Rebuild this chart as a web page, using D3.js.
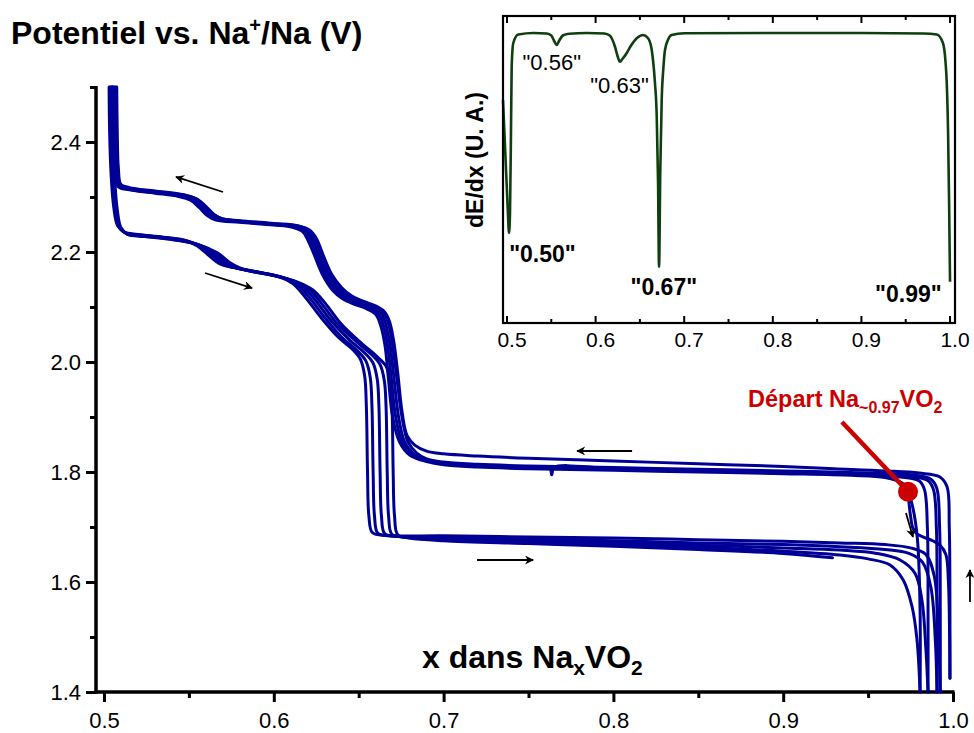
<!DOCTYPE html>
<html><head><meta charset="utf-8">
<script src="https://cdn.jsdelivr.net/npm/d3@7"></script>
<style>
html,body{margin:0;padding:0;background:#fff;}
svg{display:block;font-family:"Liberation Sans",Arial,sans-serif;}
</style></head>
<body>
<svg id="chart" width="974" height="733"></svg>
<script>
// ---------------- DATA ----------------
// main axes
const xTicksMain = [0.5, 0.6, 0.7, 0.8, 0.9, 1.0];
const xMinorMain = [0.55, 0.65, 0.75, 0.85, 0.95];
const yTicksMain = [1.4, 1.6, 1.8, 2.0, 2.2, 2.4];
const yMinorMain = [1.5, 1.7, 1.9, 2.1, 2.3, 2.5];

// charge curves (upper, x decreasing), [x, V]
const charge1 = [[0.9982,1.425],[0.9982,1.55],[0.9978,1.70],[0.9965,1.773],[0.9923,1.791],[0.9800,1.798],[0.9600,1.802],[0.9300,1.806],[0.9000,1.810],[0.8500,1.815],[0.8000,1.820],[0.7500,1.825],[0.7200,1.829],[0.7000,1.833],[0.6900,1.838],[0.6830,1.849],[0.6785,1.866],[0.6755,1.91],[0.6730,1.98],[0.6705,2.04],[0.6680,2.075],[0.6650,2.092],[0.6600,2.102],[0.6530,2.110],[0.6460,2.120],[0.6400,2.135],[0.6340,2.16],[0.6290,2.195],[0.6250,2.225],[0.6210,2.240],[0.6150,2.247],[0.6000,2.251],[0.5800,2.256],[0.5700,2.260],[0.5650,2.268],[0.5600,2.283],[0.5550,2.296],[0.5480,2.303],[0.5300,2.310],[0.5150,2.316],[0.5100,2.322],[0.5085,2.35],[0.5078,2.42],[0.5075,2.50]];
const charge2 = [[0.9925,1.40],[0.9925,1.55],[0.9921,1.70],[0.9905,1.770],[0.9870,1.787],[0.9750,1.795],[0.9500,1.798],[0.9000,1.802],[0.8500,1.805],[0.8000,1.808],[0.7500,1.811],[0.7200,1.814],[0.7000,1.818],[0.6900,1.824],[0.6840,1.835],[0.6790,1.855],[0.6755,1.90],[0.6725,1.97],[0.6700,2.03],[0.6675,2.07],[0.6645,2.090],[0.6590,2.100],[0.6520,2.108],[0.6450,2.118],[0.6390,2.133],[0.6330,2.16],[0.6280,2.195],[0.6240,2.224],[0.6200,2.240],[0.6140,2.248],[0.6000,2.252],[0.5800,2.257],[0.5690,2.261],[0.5640,2.269],[0.5590,2.284],[0.5540,2.297],[0.5470,2.304],[0.5300,2.311],[0.5150,2.317],[0.5095,2.324],[0.5080,2.36],[0.5072,2.43],[0.5068,2.50]];
const charge3 = [[0.9906,1.40],[0.9906,1.55],[0.9902,1.70],[0.9885,1.768],[0.9850,1.785],[0.9700,1.793],[0.9500,1.796],[0.9000,1.800],[0.8500,1.803],[0.8000,1.806],[0.7650,1.808],[0.7637,1.795],[0.7625,1.808],[0.7500,1.809],[0.7200,1.812],[0.7000,1.816],[0.6900,1.822],[0.6820,1.834],[0.6770,1.855],[0.6735,1.90],[0.6708,1.97],[0.6685,2.03],[0.6660,2.068],[0.6630,2.089],[0.6575,2.099],[0.6505,2.107],[0.6435,2.117],[0.6375,2.133],[0.6315,2.16],[0.6265,2.195],[0.6228,2.223],[0.6190,2.239],[0.6130,2.247],[0.6000,2.251],[0.5800,2.256],[0.5680,2.260],[0.5630,2.268],[0.5580,2.283],[0.5530,2.296],[0.5460,2.303],[0.5300,2.309],[0.5150,2.315],[0.5090,2.323],[0.5075,2.37],[0.5067,2.44],[0.5062,2.50]];
const charge4 = [[0.9853,1.40],[0.9853,1.55],[0.9849,1.70],[0.9832,1.768],[0.9800,1.784],[0.9650,1.792],[0.9400,1.796],[0.9000,1.799],[0.8500,1.802],[0.8000,1.805],[0.7500,1.808],[0.7200,1.811],[0.7000,1.815],[0.6900,1.821],[0.6810,1.833],[0.6755,1.855],[0.6718,1.90],[0.6692,1.97],[0.6670,2.03],[0.6645,2.067],[0.6615,2.088],[0.6560,2.098],[0.6490,2.106],[0.6420,2.116],[0.6360,2.132],[0.6300,2.16],[0.6252,2.195],[0.6215,2.222],[0.6180,2.238],[0.6120,2.246],[0.6000,2.250],[0.5800,2.255],[0.5670,2.259],[0.5620,2.267],[0.5570,2.282],[0.5520,2.295],[0.5450,2.302],[0.5300,2.308],[0.5150,2.314],[0.5085,2.322],[0.5068,2.38],[0.5060,2.45],[0.5055,2.50]];
const charge5 = [[0.9806,1.40],[0.9806,1.55],[0.9790,1.68],[0.9760,1.74],[0.9735,1.764],[0.9700,1.780],[0.9600,1.790],[0.9400,1.794],[0.9000,1.797],[0.8500,1.800],[0.8000,1.803],[0.7500,1.806],[0.7200,1.809],[0.7000,1.813],[0.6900,1.819],[0.6800,1.831],[0.6740,1.855],[0.6700,1.90],[0.6675,1.97],[0.6655,2.03],[0.6630,2.066],[0.6600,2.087],[0.6545,2.097],[0.6475,2.105],[0.6405,2.115],[0.6345,2.131],[0.6285,2.16],[0.6238,2.195],[0.6202,2.221],[0.6170,2.237],[0.6110,2.245],[0.6000,2.249],[0.5800,2.254],[0.5660,2.258],[0.5610,2.266],[0.5560,2.281],[0.5510,2.294],[0.5440,2.301],[0.5300,2.307],[0.5150,2.313],[0.5080,2.320],[0.5060,2.39],[0.5052,2.46],[0.5048,2.50]];

// discharge curves (lower, x increasing), [x, V]
const discharge0 = [[0.9735,1.764],[0.9750,1.72],[0.9765,1.697],[0.9790,1.687],[0.9823,1.682],[0.9880,1.675],[0.9923,1.667],[0.9958,1.650],[0.9973,1.60],[0.9980,1.50],[0.9982,1.425]];
const discharge1 = [[0.5030,2.50],[0.5033,2.42],[0.5042,2.34],[0.5058,2.28],[0.5080,2.248],[0.5120,2.236],[0.5200,2.232],[0.5350,2.227],[0.5480,2.221],[0.5550,2.211],[0.5620,2.193],[0.5680,2.179],[0.5760,2.172],[0.5900,2.164],[0.6030,2.155],[0.6110,2.143],[0.6180,2.120],[0.6280,2.080],[0.6380,2.045],[0.6460,2.024],[0.6510,2.005],[0.6535,1.975],[0.6545,1.92],[0.6552,1.80],[0.6560,1.72],[0.6580,1.690],[0.6650,1.685],[0.7000,1.684],[0.7500,1.682],[0.8000,1.680],[0.8500,1.677],[0.9000,1.674],[0.9334,1.671],[0.9600,1.668],[0.9750,1.662],[0.9840,1.650],[0.9890,1.610],[0.9915,1.50],[0.9925,1.40]];
const discharge2 = [[0.5035,2.50],[0.5038,2.42],[0.5047,2.34],[0.5062,2.28],[0.5085,2.247],[0.5125,2.235],[0.5210,2.231],[0.5360,2.226],[0.5500,2.219],[0.5580,2.207],[0.5650,2.190],[0.5710,2.177],[0.5790,2.170],[0.5930,2.162],[0.6060,2.153],[0.6140,2.140],[0.6210,2.117],[0.6310,2.077],[0.6410,2.042],[0.6490,2.021],[0.6542,2.002],[0.6568,1.972],[0.6578,1.92],[0.6585,1.80],[0.6593,1.72],[0.6612,1.689],[0.6680,1.684],[0.7000,1.681],[0.7500,1.678],[0.8000,1.675],[0.8500,1.671],[0.9000,1.668],[0.9334,1.664],[0.9600,1.659],[0.9740,1.652],[0.9820,1.636],[0.9870,1.590],[0.9895,1.50],[0.9906,1.40]];
const discharge3 = [[0.5040,2.50],[0.5043,2.42],[0.5052,2.34],[0.5067,2.28],[0.5090,2.246],[0.5130,2.234],[0.5220,2.230],[0.5370,2.225],[0.5520,2.217],[0.5610,2.204],[0.5680,2.187],[0.5740,2.175],[0.5820,2.168],[0.5960,2.160],[0.6090,2.150],[0.6170,2.137],[0.6240,2.114],[0.6340,2.074],[0.6450,2.039],[0.6530,2.018],[0.6583,1.999],[0.6609,1.969],[0.6619,1.92],[0.6626,1.80],[0.6634,1.72],[0.6653,1.688],[0.6720,1.683],[0.7000,1.679],[0.7500,1.676],[0.8000,1.672],[0.8500,1.667],[0.9000,1.662],[0.9334,1.658],[0.9550,1.652],[0.9688,1.640],[0.9776,1.616],[0.9817,1.567],[0.9840,1.48],[0.9853,1.40]];
const discharge4 = [[0.5045,2.50],[0.5048,2.42],[0.5057,2.34],[0.5072,2.28],[0.5095,2.245],[0.5135,2.233],[0.5230,2.229],[0.5380,2.224],[0.5540,2.215],[0.5640,2.201],[0.5710,2.184],[0.5770,2.173],[0.5850,2.166],[0.5990,2.158],[0.6120,2.147],[0.6200,2.134],[0.6270,2.111],[0.6370,2.071],[0.6490,2.036],[0.6570,2.015],[0.6625,1.996],[0.6651,1.966],[0.6661,1.92],[0.6668,1.80],[0.6676,1.72],[0.6695,1.687],[0.6760,1.682],[0.7000,1.677],[0.7500,1.673],[0.8000,1.668],[0.8500,1.663],[0.9000,1.656],[0.9334,1.649],[0.9500,1.642],[0.9629,1.631],[0.9706,1.604],[0.9759,1.555],[0.9788,1.495],[0.9806,1.40]];
const discharge5 = [[0.5050,2.50],[0.5053,2.42],[0.5062,2.34],[0.5077,2.28],[0.5100,2.244],[0.5140,2.232],[0.5240,2.228],[0.5390,2.223],[0.5560,2.213],[0.5670,2.198],[0.5740,2.181],[0.5800,2.171],[0.5880,2.164],[0.6020,2.156],[0.6150,2.144],[0.6230,2.131],[0.6300,2.108],[0.6400,2.068],[0.6520,2.033],[0.6600,2.012],[0.6660,1.993],[0.6686,1.963],[0.6696,1.92],[0.6703,1.80],[0.6711,1.72],[0.6730,1.686],[0.6800,1.680],[0.7000,1.675],[0.7500,1.670],[0.8000,1.665],[0.8500,1.659],[0.9000,1.652],[0.9290,1.644]];

// starting point and annotation
const startPoint = [0.9735, 1.764];
const startLineFrom = [0.9346, 1.891];
const startLabelPos = [0.8793, 1.918];
const startLabelMain = "Départ Na";
const startLabelSub = "~0.97";
const startLabelTail = "VO";
const startLabelSub2 = "2";

// direction arrows [x0,V0,x1,V1]
const arrowsMain = [
  [0.5701, 2.3091, 0.5424, 2.3364],
  [0.5595, 2.1618, 0.5872, 2.1345],
  [0.8110, 1.8382, 0.7786, 1.8382],
  [0.7197, 1.6400, 0.7527, 1.6400],
  [0.9723, 1.7255, 0.9764, 1.6818],
  [1.0100, 1.5636, 1.0100, 1.6218]
];

// inset dE/dx curve [x, dE/dx (a.u.)]
const insetTicks = [0.5, 0.6, 0.7, 0.8, 0.9, 1.0];
const insetMinor = [0.55, 0.65, 0.75, 0.85, 0.95];
const insetCurve = [[0.4955,-0.268],[0.5008,-0.70],[0.5023,-0.80],[0.5034,-0.72],[0.5045,-0.40],[0.5053,-0.135],[0.5071,-0.04],[0.5128,-0.006],[0.5300,0.000],[0.5450,-0.002],[0.5500,-0.010],[0.5530,-0.030],[0.5560,-0.048],[0.5590,-0.030],[0.5630,-0.010],[0.5700,-0.003],[0.5900,0.000],[0.6100,-0.002],[0.6160,-0.010],[0.6219,-0.055],[0.6250,-0.095],[0.6275,-0.115],[0.6300,-0.105],[0.6350,-0.081],[0.6400,-0.050],[0.6464,-0.021],[0.6535,-0.008],[0.6590,-0.020],[0.6630,-0.060],[0.6648,-0.108],[0.6670,-0.200],[0.6690,-0.335],[0.6705,-0.60],[0.6716,-0.935],[0.6730,-0.55],[0.6746,-0.268],[0.6765,-0.14],[0.6783,-0.068],[0.6820,-0.025],[0.6858,-0.008],[0.7000,-0.001],[0.8000,0.000],[0.9000,0.000],[0.9700,-0.002],[0.9850,-0.006],[0.9920,-0.040],[0.9950,-0.12],[0.9963,-0.20],[0.9978,-0.40],[0.9989,-0.668],[1.0000,-0.995]];
const insetPeakLabels = [
  {text:'"0.56"', x:0.5505, y:-0.147, bold:false},
  {text:'"0.63"', x:0.6270, y:-0.240, bold:false},
  {text:'"0.50"', x:0.5400, y:-0.916, bold:true},
  {text:'"0.67"', x:0.6770, y:-1.048, bold:true},
  {text:'"0.99"', x:0.9530, y:-1.076, bold:true}
];

// ---------------- DRAW ----------------
const svg = d3.select("#chart");
const FONT = '"Liberation Sans", Arial, sans-serif';
const BLUE = "#000096", RED = "#cc0000", GREEN = "#0f3f0f";

const x = d3.scaleLinear().domain([0.5, 1.0]).range([104, 953]);
const y = d3.scaleLinear().domain([1.4, 2.5]).range([692, 87]);

// defs
const defs = svg.append("defs");
defs.append("marker").attr("id","ah").attr("viewBox","0 0 10 10").attr("refX",9).attr("refY",5)
  .attr("markerWidth",11).attr("markerHeight",9).attr("markerUnits","userSpaceOnUse").attr("orient","auto")
  .append("path").attr("d","M0,0 L10,5 L0,10 L3,5 Z").attr("fill","#000");

// title
const title = svg.append("text").attr("x",11).attr("y",44).attr("font-family",FONT)
  .attr("font-weight","bold").attr("font-size",32).attr("fill","#000");
title.append("tspan").text("Potentiel vs. Na");
title.append("tspan").text("+").attr("font-size",20).attr("dy",-12);
title.append("tspan").text("/Na (V)").attr("dy",12);

// y axis
const gy = svg.append("g").attr("transform","translate(96,0)");
gy.call(d3.axisLeft(y).tickValues(yTicksMain).tickSize(10).tickSizeOuter(0).tickPadding(5).tickFormat(d3.format(".1f")));
gy.select(".domain").remove();
gy.selectAll(".tick line").attr("stroke","#000").attr("stroke-width",3);
gy.selectAll(".tick text").attr("font-family",FONT).attr("font-size",22).attr("fill","#000");
const gyMinor = svg.append("g").attr("transform","translate(96,0)");
gyMinor.call(d3.axisLeft(y).tickValues(yMinorMain).tickSize(6).tickFormat(""));
gyMinor.select(".domain").remove();
gyMinor.selectAll(".tick line").attr("stroke","#000").attr("stroke-width",3);
svg.append("line").attr("x1",96).attr("x2",96).attr("y1",y(2.5)-1).attr("y2",y(1.4)+1.75)
  .attr("stroke","#000").attr("stroke-width",3.5);

// x axis
const gx = svg.append("g").attr("transform","translate(0,692)");
gx.call(d3.axisBottom(x).tickValues(xTicksMain).tickSize(10).tickSizeOuter(0).tickPadding(10).tickFormat(d3.format(".1f")));
gx.select(".domain").remove();
gx.selectAll(".tick line").attr("stroke","#000").attr("stroke-width",3);
gx.selectAll(".tick text").attr("font-family",FONT).attr("font-size",22).attr("fill","#000")
  .attr("dy",null).attr("y",36);
const gxMinor = svg.append("g").attr("transform","translate(0,692)");
gxMinor.call(d3.axisBottom(x).tickValues(xMinorMain).tickSize(6).tickFormat(""));
gxMinor.select(".domain").remove();
gxMinor.selectAll(".tick line").attr("stroke","#000").attr("stroke-width",3);
svg.append("line").attr("x1",94.25).attr("x2",x(1.0)+1.5).attr("y1",692).attr("y2",692)
  .attr("stroke","#000").attr("stroke-width",3.5);

// x label
const xl = svg.append("text").attr("x",422).attr("y",668).attr("font-family",FONT)
  .attr("font-weight","bold").attr("font-size",32).attr("fill","#000");
xl.append("tspan").text("x dans Na");
xl.append("tspan").text("x").attr("font-size",21).attr("dy",7);
xl.append("tspan").text("VO").attr("dy",-7);
xl.append("tspan").text("2").attr("font-size",21).attr("dy",7);

// curves
const line = d3.line().x(d => x(d[0])).y(d => y(d[1])).curve(d3.curveCatmullRom.alpha(0.5));
const curves = [discharge1, discharge2, discharge3, discharge4, discharge5,
                charge1, charge2, charge3, charge4, charge5, discharge0];
svg.append("g").selectAll("path").data(curves).join("path")
  .attr("d", line).attr("fill","none").attr("stroke",BLUE).attr("stroke-width",3)
  .attr("stroke-linejoin","round").attr("stroke-linecap","round");

// arrows
svg.append("g").selectAll("line").data(arrowsMain).join("line")
  .attr("x1",d=>x(d[0])).attr("y1",d=>y(d[1])).attr("x2",d=>x(d[2])).attr("y2",d=>y(d[3]))
  .attr("stroke","#000").attr("stroke-width",1.8).attr("marker-end","url(#ah)");

// start annotation
svg.append("line").attr("x1",x(startLineFrom[0])).attr("y1",y(startLineFrom[1]))
  .attr("x2",x(startPoint[0])).attr("y2",y(startPoint[1]))
  .attr("stroke",RED).attr("stroke-width",4.5);
svg.append("circle").attr("cx",x(startPoint[0])).attr("cy",y(startPoint[1])).attr("r",10).attr("fill",RED);
const sl = svg.append("text").attr("x",x(startLabelPos[0])).attr("y",y(startLabelPos[1]))
  .attr("font-family",FONT).attr("font-weight","bold").attr("font-size",23.5).attr("fill",RED);
sl.append("tspan").text(startLabelMain);
sl.append("tspan").text(startLabelSub).attr("font-size",16).attr("dy",6);
sl.append("tspan").text(startLabelTail).attr("dy",-6);
sl.append("tspan").text(startLabelSub2).attr("font-size",16).attr("dy",6);

// ---------------- INSET ----------------
const xi = d3.scaleLinear().domain([0.4955, 1.0056]).range([503, 955]);
const yi = d3.scaleLinear().domain([-1.16, 0.068]).range([323, 16]);
const [ix0, ix1] = xi.range(), [iy1, iy0] = yi.range();

const inset = svg.append("g");
const iline = d3.line().x(d => xi(d[0])).y(d => yi(d[1])).curve(d3.curveMonotoneX);
inset.append("path").datum(insetCurve).attr("d", iline).attr("fill","none")
  .attr("stroke",GREEN).attr("stroke-width",2.6).attr("stroke-linejoin","round");

inset.append("rect").attr("x",ix0).attr("y",iy0).attr("width",ix1-ix0).attr("height",iy1-iy0)
  .attr("fill","none").attr("stroke","#000").attr("stroke-width",2.2);

const tickGroups = [[insetTicks,7],[insetMinor,4]];
tickGroups.forEach(([vals,len]) => {
  inset.append("g").selectAll("line").data(vals).join("line")
    .attr("x1",d=>xi(d)).attr("x2",d=>xi(d)).attr("y1",iy1).attr("y2",iy1-len)
    .attr("stroke","#000").attr("stroke-width",2);
  inset.append("g").selectAll("line").data(vals).join("line")
    .attr("x1",d=>xi(d)).attr("x2",d=>xi(d)).attr("y1",iy0).attr("y2",iy0+len)
    .attr("stroke","#000").attr("stroke-width",2);
});
inset.append("g").selectAll("text").data(insetTicks).join("text")
  .attr("x",d=>xi(d)+5).attr("y",iy1+24).attr("text-anchor","middle")
  .attr("font-family",FONT).attr("font-size",21).attr("fill","#000")
  .text(d3.format(".1f"));

inset.append("g").selectAll("text").data(insetPeakLabels).join("text")
  .attr("x",d=>xi(d.x)).attr("y",d=>yi(d.y)).attr("text-anchor","middle")
  .attr("font-family",FONT).attr("font-weight",d=>d.bold?"bold":"normal")
  .attr("font-size",d=>d.bold?23:22).attr("fill","#000").text(d=>d.text);

inset.append("text").attr("transform","translate(483,160) rotate(-90)").attr("text-anchor","middle")
  .attr("font-family",FONT).attr("font-weight","bold").attr("font-size",23).attr("fill","#000")
  .text("dE/dx (U. A.)");
</script>
</body></html>
